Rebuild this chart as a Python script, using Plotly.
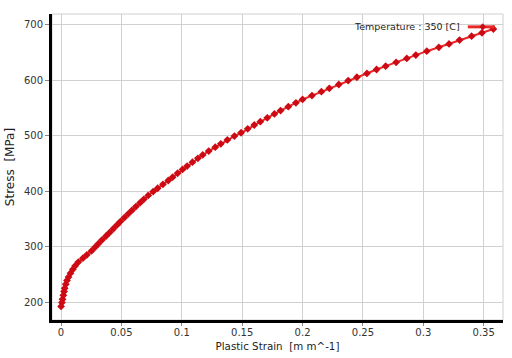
import plotly.graph_objects as go

# Plastic strain [m m^-1]
strain = [0, 0.0007, 0.0012, 0.0019, 0.0025, 0.003, 0.0039, 0.0049, 0.0062, 0.0078,
          0.0098, 0.0116, 0.0143, 0.0181, 0.0214, 0.0252, 0.0283, 0.0309, 0.0340, 0.0373,
          0.0401, 0.0433, 0.0464, 0.0491, 0.0524, 0.0557, 0.0586, 0.062, 0.0655, 0.0685,
          0.0722, 0.0763, 0.08, 0.0844, 0.0888, 0.0924, 0.0965, 0.1006, 0.1044, 0.1088,
          0.1133, 0.1173, 0.1223, 0.1277, 0.1323, 0.1377, 0.1436, 0.1491, 0.1546, 0.16,
          0.165, 0.1708, 0.1767, 0.1818, 0.1882, 0.1945, 0.2, 0.2078, 0.2156, 0.2222,
          0.23, 0.2378, 0.245, 0.2533, 0.2613, 0.2688, 0.2775, 0.2863, 0.2938, 0.3029,
          0.3129, 0.3213, 0.33, 0.34, 0.3486, 0.358]
# Stress [MPa]
stress = [192, 199, 205, 212, 219, 225, 232, 239, 245, 252,
          259, 265, 272, 279, 285, 292, 299, 305, 312, 319,
          325, 332, 339, 345, 352, 359, 365, 372, 379, 385,
          392, 399, 405, 412, 419, 425, 432, 439, 445, 452,
          459, 465, 472, 479, 485, 492, 499, 505, 512, 519,
          525, 532, 539, 545, 552, 559, 565, 572, 579, 585,
          592, 599, 605, 612, 619, 625, 632, 639, 645, 652,
          659, 665, 672, 679, 685, 692]

series_name = "Temperature : 350 [C]"
x_title = "Plastic Strain\u00a0\u00a0[m m^-1]"
y_title = "Stress\u00a0\u00a0[MPa]"

FONT = "DejaVu Sans, Verdana, sans-serif"
LINE_RED = "rgb(235,40,40)"
MARK_RED = "rgb(205,10,20)"

fig = go.Figure()
fig.add_trace(go.Scatter(
    x=strain, y=stress, mode="lines+markers", name=series_name,
    line=dict(color=LINE_RED, width=2),
    marker=dict(symbol="diamond", size=6, color=MARK_RED),
    showlegend=False,
))

fig.update_layout(
    width=512, height=358,
    margin=dict(l=52, r=9, t=14, b=38),
    paper_bgcolor="white", plot_bgcolor="white",
    font=dict(family=FONT, size=10, color="#333"),
    xaxis=dict(
        range=[-0.0075, 0.366], tick0=0, dtick=0.05, automargin=False,
        showgrid=True, gridcolor="#d0d0d0", gridwidth=1, zeroline=False,
        showline=True, linecolor="black", linewidth=3,
        ticks="outside", ticklen=3, tickcolor="#888",
        ticklabelstandoff=-2,
        tickfont=dict(size=10, color="#333"),
        title=dict(text=x_title, font=dict(size=10.3, color="#222"), standoff=6),
    ),
    yaxis=dict(
        range=[167.6, 719], tick0=200, dtick=100, automargin=False,
        showgrid=True, gridcolor="#d0d0d0", gridwidth=1, zeroline=False,
        showline=True, linecolor="black", linewidth=3,
        ticks="outside", ticklen=4, tickcolor="#888",
        tickfont=dict(size=10, color="#333"),
        title=dict(text=y_title, font=dict(size=12, color="#222"), standoff=7),
    ),
    shapes=[
        dict(type="rect", xref="paper", yref="paper", x0=0, x1=1, y0=0, y1=1,
             line=dict(color="#cfcfcf", width=1), layer="below"),
        dict(type="line", xref="paper", yref="paper", x0=0.922, x1=0.982, y0=0.958, y1=0.958,
             line=dict(color=LINE_RED, width=3)),
        dict(type="path", xref="paper", yref="paper",
             path="M 0.955 0.948 L 0.961 0.958 L 0.955 0.968 L 0.949 0.958 Z",
             fillcolor=MARK_RED, line=dict(color=MARK_RED, width=1)),
    ],
    annotations=[
        dict(text=series_name, xref="paper", yref="paper", x=0.908, y=0.958,
             xanchor="right", yanchor="middle", showarrow=False,
             font=dict(size=9.5, color="#222")),
    ],
)

fig.write_html("out.html", config={"displayModeBar": False},
               post_script="document.body.style.margin='0';")
